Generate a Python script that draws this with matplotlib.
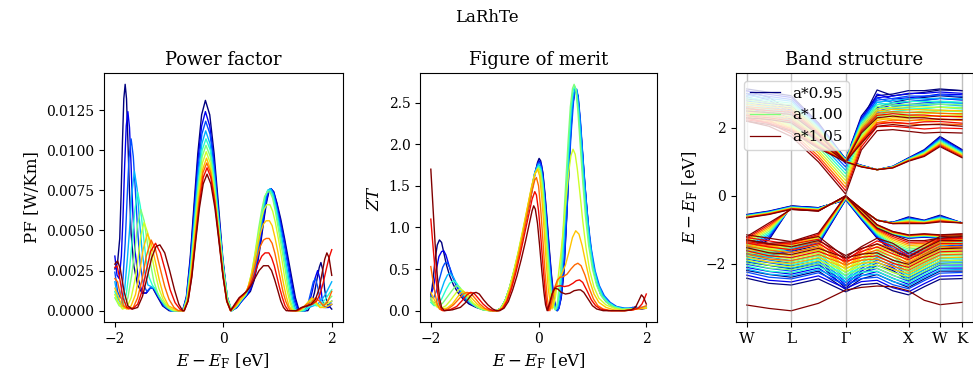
import numpy as np
import matplotlib
matplotlib.use("Agg")
import matplotlib.pyplot as plt

plt.rcParams['font.family'] = ['DejaVu Serif']
plt.rcParams['mathtext.fontset'] = 'dejavuserif'

# lattice scale factors, one curve each (a*0.95 ... a*1.05)
scales = [0.95, 0.96, 0.97, 0.98, 0.99, 1.00, 1.01, 1.02, 1.03, 1.04, 1.05]

# ---------------- power factor, (E - E_F, PF) ----------------
pf_095 = [(-2.00,0.0026),(-1.95,0.0030),(-1.91,0.0045),(-1.885,0.0072),(-1.86,0.0105),(-1.835,0.0132),(-1.81,0.0141),(-1.785,0.0132),(-1.76,0.0106),(-1.73,0.0074),(-1.70,0.0048),(-1.65,0.0028),(-1.58,0.0016),(-1.50,0.0011),(-1.42,0.0011),(-1.35,0.0014),(-1.30,0.0014),(-1.22,0.0009),(-1.12,0.0003),(-1.00,0.0),
          (-0.75,0.0),(-0.68,0.0009),(-0.61,0.0033),(-0.54,0.0066),(-0.47,0.0098),(-0.40,0.0122),(-0.33,0.0131),(-0.25,0.0122),(-0.17,0.0098),(-0.09,0.0066),(-0.01,0.0033),(0.07,0.0009),(0.15,0.0),
          (0.25,0.0002),(0.34,0.0006),(0.42,0.0009),(0.50,0.0012),(0.57,0.0019),(0.63,0.0029),(0.69,0.0042),(0.75,0.0057),(0.80,0.0068),(0.84,0.0074),(0.88,0.0076),(0.93,0.0074),(0.99,0.0067),(1.06,0.0057),(1.13,0.0045),(1.20,0.0032),(1.27,0.0019),(1.33,0.0008),(1.39,0.0001),(1.45,0.0),
          (1.56,0.0),(1.62,0.0004),(1.68,0.0011),(1.73,0.0020),(1.77,0.0027),(1.80,0.0030),(1.83,0.0026),(1.87,0.0013),(1.92,0.0004),(2.00,0.0001)]
pf_096 = [(-2.00,0.0034),(-1.96,0.0022),(-1.92,0.0020),(-1.88,0.0034),(-1.85,0.0058),(-1.82,0.0090),(-1.79,0.0115),(-1.76,0.0124),(-1.73,0.0114),(-1.70,0.0090),(-1.67,0.0062),(-1.63,0.0038),(-1.57,0.0020),(-1.49,0.0011),(-1.42,0.0011),(-1.35,0.0014),(-1.29,0.0014),(-1.21,0.0009),(-1.10,0.0003),(-0.98,0.0),
          (-0.75,0.0),(-0.68,0.0008),(-0.61,0.0031),(-0.54,0.0062),(-0.47,0.0093),(-0.40,0.0115),(-0.33,0.0124),(-0.25,0.0115),(-0.17,0.0093),(-0.09,0.0062),(-0.01,0.0031),(0.07,0.0008),(0.15,0.0),
          (0.25,0.0002),(0.34,0.0006),(0.42,0.0009),(0.50,0.0013),(0.57,0.0020),(0.63,0.0031),(0.69,0.0044),(0.75,0.0059),(0.80,0.0069),(0.84,0.0075),(0.88,0.0076),(0.93,0.0074),(0.99,0.0066),(1.06,0.0055),(1.13,0.0043),(1.19,0.0031),(1.26,0.0018),(1.32,0.0007),(1.38,0.0001),(1.43,0.0),
          (1.52,0.0),(1.58,0.0004),(1.64,0.0012),(1.69,0.0020),(1.74,0.0025),(1.78,0.0020),(1.82,0.0008),(1.87,0.0002),(1.94,0.0002),(2.00,0.0004)]
pf_097 = [(-2.00,0.0024),(-1.95,0.0012),(-1.90,0.0008),(-1.85,0.0020),(-1.81,0.0042),(-1.77,0.0073),(-1.74,0.0095),(-1.70,0.0107),(-1.66,0.0096),(-1.62,0.0074),(-1.58,0.0050),(-1.53,0.0028),(-1.47,0.0016),(-1.41,0.0012),(-1.35,0.0014),(-1.28,0.0014),(-1.20,0.0009),(-1.09,0.0003),(-0.97,0.0),
          (-0.745,0.0),(-0.675,0.0008),(-0.605,0.0030),(-0.535,0.0059),(-0.465,0.0089),(-0.395,0.0110),(-0.325,0.0118),(-0.245,0.0110),(-0.165,0.0089),(-0.085,0.0059),(-0.005,0.0030),(0.075,0.0008),(0.155,0.0),
          (0.25,0.0002),(0.34,0.0006),(0.42,0.0010),(0.49,0.0014),(0.56,0.0021),(0.62,0.0032),(0.68,0.0046),(0.74,0.0060),(0.79,0.0070),(0.83,0.0075),(0.875,0.0076),(0.92,0.0073),(0.98,0.0065),(1.05,0.0054),(1.12,0.0042),(1.18,0.0030),(1.24,0.0018),(1.30,0.0007),(1.36,0.0001),(1.41,0.0),
          (1.50,0.0),(1.56,0.0004),(1.61,0.0011),(1.66,0.0018),(1.70,0.0020),(1.74,0.0015),(1.79,0.0006),(1.85,0.0002),(1.93,0.0003),(2.00,0.0006)]
pf_098 = [(-2.00,0.0018),(-1.95,0.0008),(-1.88,0.0004),(-1.82,0.0013),(-1.77,0.0032),(-1.73,0.0050),(-1.69,0.0072),(-1.64,0.0087),(-1.59,0.0076),(-1.55,0.0058),(-1.50,0.0038),(-1.45,0.0024),(-1.39,0.0016),(-1.33,0.0015),(-1.27,0.0014),(-1.19,0.0009),(-1.08,0.0003),(-0.96,0.0),
          (-0.745,0.0),(-0.675,0.0008),(-0.605,0.0028),(-0.535,0.0056),(-0.465,0.0084),(-0.395,0.0104),(-0.325,0.0112),(-0.245,0.0104),(-0.165,0.0084),(-0.085,0.0056),(-0.005,0.0028),(0.075,0.0008),(0.155,0.0),
          (0.25,0.0003),(0.34,0.0007),(0.42,0.0010),(0.49,0.0015),(0.55,0.0022),(0.61,0.0033),(0.67,0.0047),(0.73,0.0061),(0.78,0.0071),(0.82,0.0075),(0.87,0.0076),(0.92,0.0073),(0.98,0.0064),(1.04,0.0053),(1.10,0.0041),(1.16,0.0029),(1.22,0.0017),(1.28,0.0007),(1.33,0.0001),(1.38,0.0),
          (1.50,0.0),(1.58,0.0002),(1.66,0.0003),(1.74,0.0004),(1.82,0.0007),(1.88,0.0010),(1.94,0.0014),(2.00,0.0018)]
pf_099 = [(-2.00,0.0012),(-1.94,0.0005),(-1.86,0.0003),(-1.79,0.0010),(-1.73,0.0026),(-1.68,0.0044),(-1.63,0.0063),(-1.58,0.0074),(-1.53,0.0065),(-1.48,0.0049),(-1.43,0.0033),(-1.37,0.0021),(-1.31,0.0016),(-1.25,0.0013),(-1.17,0.0008),(-1.06,0.0003),(-0.94,0.0),
          (-0.74,0.0),(-0.67,0.0007),(-0.60,0.0027),(-0.53,0.0054),(-0.46,0.0080),(-0.39,0.0100),(-0.32,0.0107),(-0.24,0.0100),(-0.16,0.0080),(-0.08,0.0054),(0.00,0.0027),(0.08,0.0007),(0.16,0.0),
          (0.25,0.0003),(0.34,0.0007),(0.42,0.0010),(0.48,0.0015),(0.54,0.0023),(0.60,0.0035),(0.66,0.0049),(0.72,0.0062),(0.77,0.0071),(0.82,0.0075),(0.865,0.0075),(0.91,0.0072),(0.97,0.0063),(1.03,0.0052),(1.09,0.0040),(1.15,0.0028),(1.21,0.0016),(1.26,0.0007),(1.31,0.0001),(1.36,0.0),
          (1.48,0.0),(1.56,0.0002),(1.64,0.0004),(1.72,0.0003),(1.80,0.0004),(1.88,0.0007),(1.94,0.0010),(2.00,0.0013)]
pf_100 = [(-2.00,0.0008),(-1.92,0.0003),(-1.83,0.0002),(-1.76,0.0008),(-1.69,0.0022),(-1.63,0.0038),(-1.58,0.0054),(-1.52,0.0063),(-1.46,0.0056),(-1.40,0.0042),(-1.34,0.0029),(-1.28,0.0018),(-1.21,0.0011),(-1.13,0.0006),(-1.03,0.0002),(-0.92,0.0),
          (-0.74,0.0),(-0.67,0.0007),(-0.60,0.0026),(-0.53,0.0052),(-0.46,0.0077),(-0.39,0.0096),(-0.32,0.0103),(-0.24,0.0096),(-0.16,0.0077),(-0.08,0.0052),(0.00,0.0026),(0.08,0.0007),(0.16,0.0),
          (0.25,0.0003),(0.34,0.0007),(0.41,0.0010),(0.47,0.0016),(0.53,0.0025),(0.59,0.0037),(0.65,0.0051),(0.71,0.0063),(0.76,0.0071),(0.81,0.0074),(0.86,0.0074),(0.91,0.0070),(0.96,0.0062),(1.02,0.0050),(1.08,0.0038),(1.14,0.0026),(1.19,0.0015),(1.24,0.0006),(1.29,0.0001),(1.33,0.0),
          (1.45,0.0),(1.53,0.0003),(1.60,0.0006),(1.67,0.0005),(1.75,0.0003),(1.84,0.0004),(1.92,0.0006),(2.00,0.0009)]
pf_101 = [(-2.00,0.0010),(-1.94,0.0005),(-1.86,0.0001),(-1.78,0.0002),(-1.70,0.0008),(-1.63,0.0019),(-1.57,0.0033),(-1.52,0.0047),(-1.46,0.0055),(-1.39,0.0048),(-1.33,0.0036),(-1.26,0.0024),(-1.19,0.0014),(-1.11,0.0007),(-1.01,0.0002),(-0.90,0.0),
          (-0.735,0.0),(-0.665,0.0007),(-0.595,0.0025),(-0.525,0.0050),(-0.455,0.0074),(-0.385,0.0092),(-0.315,0.0099),(-0.24,0.0092),(-0.165,0.0074),(-0.09,0.0050),(-0.015,0.0025),(0.06,0.0007),(0.135,0.0),
          (0.24,0.0003),(0.33,0.0007),(0.40,0.0010),(0.46,0.0015),(0.52,0.0023),(0.58,0.0034),(0.64,0.0046),(0.70,0.0057),(0.75,0.0063),(0.80,0.0066),(0.86,0.0066),(0.91,0.0062),(0.96,0.0055),(1.02,0.0044),(1.08,0.0032),(1.13,0.0021),(1.18,0.0012),(1.23,0.0005),(1.27,0.0001),(1.30,0.0),
          (1.42,0.0),(1.50,0.0003),(1.58,0.0006),(1.65,0.0007),(1.72,0.0004),(1.80,0.0002),(1.90,0.0004),(2.00,0.0006)]
pf_102 = [(-2.00,0.0014),(-1.94,0.0009),(-1.87,0.0003),(-1.78,0.0001),(-1.70,0.0003),(-1.62,0.0010),(-1.55,0.0022),(-1.48,0.0038),(-1.40,0.0048),(-1.33,0.0042),(-1.25,0.0030),(-1.18,0.0019),(-1.10,0.0009),(-1.01,0.0003),(-0.90,0.0001),(-0.85,0.0),
          (-0.73,0.0),(-0.66,0.0006),(-0.59,0.0024),(-0.52,0.0048),(-0.45,0.0071),(-0.38,0.0088),(-0.31,0.0095),(-0.235,0.0088),(-0.16,0.0071),(-0.085,0.0048),(-0.01,0.0024),(0.065,0.0006),(0.14,0.0),
          (0.23,0.0003),(0.32,0.0007),(0.39,0.0010),(0.45,0.0014),(0.51,0.0021),(0.57,0.0030),(0.63,0.0040),(0.69,0.0049),(0.74,0.0054),(0.79,0.0056),(0.85,0.0056),(0.90,0.0053),(0.95,0.0046),(1.01,0.0036),(1.06,0.0026),(1.11,0.0017),(1.16,0.0009),(1.21,0.0003),(1.27,0.0),
          (1.40,0.0),(1.48,0.0002),(1.56,0.0005),(1.63,0.0008),(1.70,0.0006),(1.78,0.0002),(1.88,0.0002),(2.00,0.0004)]
pf_103 = [(-2.00,0.0020),(-1.95,0.0018),(-1.90,0.0010),(-1.84,0.0003),(-1.75,0.0001),(-1.66,0.0002),(-1.58,0.0008),(-1.50,0.0019),(-1.42,0.0034),(-1.33,0.0044),(-1.25,0.0038),(-1.17,0.0027),(-1.08,0.0015),(-1.00,0.0007),(-0.91,0.0002),(-0.83,0.0),
          (-0.725,0.0),(-0.655,0.0006),(-0.585,0.0023),(-0.515,0.0046),(-0.445,0.0069),(-0.375,0.0086),(-0.305,0.0092),(-0.235,0.0086),(-0.16,0.0069),(-0.085,0.0046),(-0.01,0.0023),(0.06,0.0006),(0.13,0.0),
          (0.22,0.0003),(0.31,0.0008),(0.38,0.0010),(0.44,0.0013),(0.50,0.0018),(0.56,0.0025),(0.62,0.0033),(0.68,0.0040),(0.74,0.0044),(0.79,0.0045),(0.845,0.0045),(0.90,0.0042),(0.95,0.0036),(1.00,0.0028),(1.05,0.0020),(1.10,0.0012),(1.15,0.0006),(1.20,0.0002),(1.24,0.0),
          (1.38,0.0),(1.46,0.0002),(1.54,0.0004),(1.62,0.0005),(1.70,0.0008),(1.77,0.0006),(1.85,0.0003),(1.93,0.0006),(2.00,0.0012)]
pf_104 = [(-2.00,0.0027),(-1.96,0.0028),(-1.91,0.0020),(-1.85,0.0008),(-1.78,0.0002),(-1.68,0.0001),(-1.58,0.0004),(-1.50,0.0012),(-1.42,0.0025),(-1.34,0.0037),(-1.25,0.0042),(-1.16,0.0036),(-1.07,0.0025),(-0.98,0.0013),(-0.89,0.0005),(-0.80,0.0001),(-0.75,0.0),
          (-0.72,0.0),(-0.65,0.0006),(-0.58,0.0022),(-0.51,0.0045),(-0.44,0.0067),(-0.37,0.0083),(-0.30,0.0089),(-0.23,0.0083),(-0.155,0.0067),(-0.08,0.0045),(-0.005,0.0022),(0.065,0.0006),(0.135,0.0),
          (0.22,0.0004),(0.30,0.0008),(0.37,0.0010),(0.43,0.0012),(0.50,0.0016),(0.57,0.0022),(0.64,0.0029),(0.71,0.0034),(0.77,0.0036),(0.84,0.0036),(0.89,0.0033),(0.94,0.0028),(0.99,0.0021),(1.04,0.0014),(1.09,0.0008),(1.14,0.0003),(1.20,0.0),
          (1.36,0.0),(1.46,0.0002),(1.56,0.0003),(1.64,0.0004),(1.72,0.0006),(1.78,0.0010),(1.84,0.0017),(1.90,0.0026),(1.95,0.0033),(2.00,0.0038)]
pf_105 = [(-2.00,0.0029),(-1.95,0.0031),(-1.90,0.0026),(-1.83,0.0012),(-1.76,0.0003),(-1.68,0.0001),(-1.58,0.0002),(-1.49,0.0009),(-1.41,0.0020),(-1.32,0.0033),(-1.24,0.0040),(-1.17,0.0041),(-1.08,0.0036),(-0.99,0.0025),(-0.90,0.0013),(-0.82,0.0004),(-0.75,0.0),
          (-0.72,0.0),(-0.65,0.0006),(-0.58,0.0021),(-0.51,0.0043),(-0.44,0.0064),(-0.37,0.0079),(-0.30,0.0085),(-0.23,0.0079),(-0.155,0.0064),(-0.08,0.0043),(-0.005,0.0021),(0.065,0.0006),(0.135,0.0),
          (0.21,0.0004),(0.29,0.0008),(0.36,0.0010),(0.43,0.0012),(0.50,0.0015),(0.58,0.0020),(0.66,0.0025),(0.74,0.0028),(0.83,0.0028),(0.89,0.0025),(0.95,0.0019),(1.01,0.0012),(1.06,0.0006),(1.11,0.0002),(1.16,0.0),
          (1.34,0.0),(1.44,0.0002),(1.54,0.0003),(1.62,0.0004),(1.70,0.0007),(1.77,0.0014),(1.82,0.0023),(1.87,0.0032),(1.91,0.0036),(1.95,0.0033),(2.00,0.0022)]

# ---------------- figure of merit ZT ----------------
zt_095 = [(-2.0,0.16),(-1.96,0.36),(-1.92,0.62),(-1.88,0.79),(-1.84,0.85),(-1.80,0.82),(-1.76,0.70),(-1.71,0.55),(-1.65,0.42),(-1.58,0.31),(-1.50,0.22),(-1.40,0.14),(-1.29,0.08),(-1.16,0.04),(-1.02,0.01),(-0.88,0.0),
          (-0.78,0.0),(-0.70,0.03),(-0.62,0.12),(-0.54,0.27),(-0.46,0.46),(-0.38,0.67),(-0.30,0.90),(-0.22,1.13),(-0.14,1.38),(-0.07,1.63),(-0.02,1.78),(0.01,1.83),(0.04,1.80),(0.08,1.66),(0.12,1.40),(0.16,1.08),(0.20,0.74),(0.24,0.43),(0.28,0.18),(0.31,0.05),(0.34,0.0),
          (0.37,0.02),(0.42,0.15),(0.47,0.45),(0.51,0.95),(0.55,1.50),(0.59,2.05),(0.63,2.45),(0.67,2.62),(0.70,2.64),(0.73,2.58),(0.77,2.30),(0.81,1.95),(0.85,1.60),(0.89,1.28),(0.94,0.92),(1.00,0.60),(1.07,0.36),(1.15,0.21),(1.25,0.12),(1.35,0.07),(1.50,0.03),(1.65,0.02),
          (1.75,0.03),(1.80,0.05),(1.85,0.03),(1.92,0.02),(2.0,0.03)]
zt_096 = [(-2.0,0.20),(-1.95,0.28),(-1.90,0.48),(-1.85,0.65),(-1.80,0.71),(-1.76,0.72),(-1.72,0.67),(-1.67,0.56),(-1.61,0.43),(-1.54,0.32),(-1.46,0.22),(-1.36,0.14),(-1.25,0.08),(-1.12,0.04),(-0.98,0.01),(-0.85,0.0),
          (-0.78,0.0),(-0.70,0.03),(-0.62,0.12),(-0.54,0.27),(-0.46,0.46),(-0.38,0.67),(-0.30,0.90),(-0.22,1.14),(-0.14,1.40),(-0.07,1.65),(-0.01,1.78),(0.02,1.80),(0.05,1.76),(0.08,1.64),(0.12,1.37),(0.16,1.04),(0.20,0.70),(0.24,0.40),(0.28,0.16),(0.32,0.04),(0.35,0.0),
          (0.38,0.03),(0.42,0.16),(0.47,0.48),(0.51,0.98),(0.55,1.54),(0.59,2.08),(0.63,2.47),(0.67,2.63),(0.70,2.65),(0.73,2.58),(0.77,2.30),(0.81,1.94),(0.85,1.58),(0.89,1.26),(0.94,0.90),(1.00,0.59),(1.07,0.35),(1.15,0.20),(1.25,0.11),(1.35,0.06),(1.50,0.03),(1.65,0.02),
          (1.75,0.04),(1.82,0.03),(1.90,0.02),(2.0,0.04)]
zt_097 = [(-2.0,0.17),(-1.95,0.15),(-1.90,0.23),(-1.84,0.38),(-1.78,0.52),(-1.74,0.57),(-1.70,0.58),(-1.65,0.52),(-1.59,0.41),(-1.52,0.30),(-1.43,0.20),(-1.33,0.12),(-1.22,0.07),(-1.10,0.03),(-0.96,0.01),(-0.85,0.0),
          (-0.78,0.0),(-0.70,0.03),(-0.62,0.12),(-0.54,0.27),(-0.46,0.46),(-0.38,0.67),(-0.30,0.91),(-0.22,1.15),(-0.14,1.42),(-0.07,1.66),(-0.01,1.77),(0.02,1.78),(0.05,1.73),(0.08,1.60),(0.12,1.32),(0.16,0.98),(0.20,0.64),(0.24,0.34),(0.28,0.13),(0.32,0.03),(0.35,0.0),
          (0.38,0.04),(0.42,0.20),(0.47,0.58),(0.52,1.12),(0.56,1.66),(0.61,2.18),(0.65,2.52),(0.68,2.65),(0.71,2.66),(0.74,2.55),(0.78,2.26),(0.82,1.88),(0.87,1.44),(0.92,1.06),(0.98,0.74),(1.05,0.48),(1.13,0.30),(1.22,0.18),(1.33,0.10),(1.45,0.05),(1.60,0.03),
          (1.75,0.03),(1.90,0.04),(2.0,0.04)]
zt_098 = [(-2.0,0.14),(-1.95,0.09),(-1.89,0.11),(-1.82,0.22),(-1.75,0.35),(-1.69,0.43),(-1.64,0.45),(-1.58,0.40),(-1.51,0.31),(-1.42,0.21),(-1.32,0.13),(-1.21,0.07),(-1.09,0.03),(-0.96,0.01),(-0.85,0.0),
          (-0.78,0.0),(-0.70,0.03),(-0.62,0.12),(-0.54,0.27),(-0.46,0.46),(-0.38,0.68),(-0.30,0.92),(-0.22,1.17),(-0.14,1.44),(-0.07,1.66),(0.0,1.76),(0.04,1.72),(0.08,1.55),(0.12,1.24),(0.16,0.88),(0.20,0.53),(0.24,0.24),(0.28,0.08),(0.32,0.01),
          (0.36,0.05),(0.41,0.28),(0.46,0.72),(0.51,1.28),(0.56,1.86),(0.60,2.30),(0.64,2.58),(0.68,2.68),(0.71,2.64),(0.75,2.42),(0.79,2.08),(0.84,1.62),(0.89,1.22),(0.95,0.84),(1.02,0.54),(1.10,0.33),(1.19,0.19),(1.30,0.10),(1.42,0.05),(1.55,0.03),
          (1.75,0.03),(1.90,0.03),(2.0,0.04)]
zt_099 = [(-2.0,0.10),(-1.94,0.06),(-1.87,0.07),(-1.80,0.14),(-1.72,0.25),(-1.65,0.33),(-1.58,0.36),(-1.52,0.33),(-1.44,0.25),(-1.35,0.16),(-1.25,0.09),(-1.14,0.04),(-1.02,0.01),(-0.90,0.0),
          (-0.78,0.0),(-0.70,0.03),(-0.62,0.12),(-0.54,0.27),(-0.46,0.46),(-0.38,0.68),(-0.30,0.92),(-0.22,1.17),(-0.14,1.43),(-0.07,1.65),(0.0,1.74),(0.04,1.70),(0.08,1.52),(0.12,1.20),(0.16,0.84),(0.20,0.50),(0.24,0.22),(0.28,0.06),(0.32,0.01),
          (0.36,0.08),(0.41,0.35),(0.46,0.82),(0.51,1.40),(0.56,1.98),(0.60,2.40),(0.64,2.64),(0.67,2.70),(0.70,2.65),(0.74,2.40),(0.78,2.04),(0.83,1.58),(0.88,1.18),(0.94,0.82),(1.01,0.52),(1.09,0.32),(1.18,0.18),(1.29,0.10),(1.41,0.05),(1.55,0.02),
          (1.75,0.02),(1.90,0.03),(2.0,0.04)]
zt_100 = [(-2.0,0.12),(-1.94,0.07),(-1.86,0.05),(-1.78,0.09),(-1.70,0.16),(-1.62,0.23),(-1.56,0.28),(-1.52,0.30),(-1.46,0.28),(-1.37,0.20),(-1.27,0.11),(-1.16,0.05),(-1.04,0.01),(-0.92,0.0),
          (-0.78,0.0),(-0.70,0.03),(-0.62,0.12),(-0.54,0.27),(-0.46,0.47),(-0.38,0.69),(-0.30,0.93),(-0.22,1.18),(-0.14,1.44),(-0.07,1.64),(0.0,1.72),(0.04,1.67),(0.08,1.46),(0.12,1.13),(0.16,0.77),(0.20,0.42),(0.24,0.16),(0.28,0.04),(0.31,0.01),
          (0.35,0.10),(0.40,0.40),(0.45,0.90),(0.50,1.48),(0.55,2.05),(0.59,2.45),(0.63,2.67),(0.66,2.72),(0.69,2.66),(0.73,2.40),(0.77,2.02),(0.82,1.55),(0.87,1.14),(0.93,0.78),(1.00,0.50),(1.08,0.30),(1.17,0.17),(1.28,0.09),(1.40,0.04),(1.55,0.02),
          (1.75,0.02),(1.90,0.03),(2.0,0.04)]
zt_101 = [(-2.0,0.16),(-1.95,0.10),(-1.88,0.04),(-1.80,0.03),(-1.72,0.06),(-1.64,0.12),(-1.56,0.19),(-1.50,0.24),(-1.46,0.26),(-1.40,0.24),(-1.31,0.17),(-1.21,0.09),(-1.10,0.04),(-0.98,0.01),(-0.88,0.0),
          (-0.78,0.0),(-0.70,0.03),(-0.62,0.12),(-0.54,0.28),(-0.46,0.48),(-0.38,0.70),(-0.30,0.95),(-0.22,1.20),(-0.14,1.45),(-0.07,1.64),(-0.01,1.71),(0.03,1.65),(0.07,1.42),(0.11,1.08),(0.15,0.70),(0.19,0.36),(0.23,0.13),(0.27,0.04),
          (0.31,0.15),(0.36,0.38),(0.41,0.66),(0.46,0.98),(0.51,1.34),(0.56,1.66),(0.60,1.86),(0.64,1.94),(0.68,1.88),(0.72,1.70),(0.77,1.40),(0.82,1.08),(0.88,0.76),(0.95,0.48),(1.03,0.28),(1.12,0.15),(1.25,0.07),(1.40,0.03),(1.55,0.01),
          (1.75,0.02),(1.90,0.03),(2.0,0.03)]
zt_102 = [(-2.0,0.22),(-1.95,0.15),(-1.88,0.06),(-1.80,0.02),(-1.70,0.03),(-1.60,0.08),(-1.52,0.15),(-1.45,0.21),(-1.40,0.23),(-1.33,0.21),(-1.24,0.15),(-1.14,0.08),(-1.04,0.03),(-0.92,0.0),
          (-0.76,0.0),(-0.68,0.03),(-0.60,0.12),(-0.52,0.28),(-0.44,0.49),(-0.36,0.73),(-0.28,0.99),(-0.20,1.26),(-0.13,1.49),(-0.07,1.64),(-0.02,1.70),(0.02,1.62),(0.06,1.36),(0.10,1.00),(0.14,0.60),(0.18,0.26),(0.22,0.08),(0.25,0.02),
          (0.28,0.12),(0.32,0.28),(0.37,0.38),(0.43,0.44),(0.50,0.55),(0.57,0.72),(0.63,0.88),(0.69,0.96),(0.75,0.92),(0.81,0.78),(0.88,0.56),(0.95,0.36),(1.03,0.20),(1.12,0.10),(1.25,0.04),(1.40,0.01),(1.55,0.0),
          (1.70,0.01),(1.85,0.02),(2.0,0.03)]
zt_103 = [(-2.0,0.53),(-1.96,0.36),(-1.92,0.20),(-1.88,0.08),(-1.84,0.02),(-1.78,0.0),(-1.68,0.02),(-1.58,0.07),(-1.48,0.14),(-1.40,0.20),(-1.33,0.22),(-1.26,0.21),(-1.18,0.15),(-1.09,0.08),(-1.00,0.03),(-0.90,0.0),
          (-0.75,0.0),(-0.67,0.03),(-0.59,0.12),(-0.51,0.28),(-0.43,0.48),(-0.35,0.71),(-0.27,0.96),(-0.19,1.22),(-0.12,1.44),(-0.07,1.57),(-0.04,1.60),(0.00,1.50),(0.04,1.22),(0.08,0.85),(0.12,0.46),(0.16,0.16),(0.19,0.03),(0.21,0.0),
          (0.25,0.12),(0.30,0.28),(0.35,0.37),(0.40,0.40),(0.46,0.41),(0.53,0.44),(0.60,0.50),(0.67,0.55),(0.73,0.57),(0.79,0.54),(0.86,0.43),(0.94,0.27),(1.02,0.14),(1.10,0.06),(1.20,0.02),(1.35,0.0),
          (1.60,0.0),(1.75,0.01),(1.88,0.03),(2.0,0.06)]
zt_104 = [(-2.0,1.10),(-1.96,0.78),(-1.92,0.48),(-1.88,0.24),(-1.84,0.08),(-1.80,0.01),(-1.76,0.0),(-1.65,0.01),(-1.52,0.05),(-1.42,0.12),(-1.33,0.19),(-1.26,0.22),(-1.20,0.21),(-1.12,0.15),(-1.03,0.08),(-0.94,0.03),(-0.85,0.0),
          (-0.74,0.0),(-0.66,0.03),(-0.58,0.12),(-0.50,0.27),(-0.42,0.46),(-0.34,0.68),(-0.26,0.92),(-0.18,1.16),(-0.12,1.34),(-0.07,1.43),(-0.04,1.39),(0.00,1.20),(0.04,0.90),(0.08,0.56),(0.12,0.25),(0.15,0.08),(0.18,0.0),
          (0.22,0.10),(0.27,0.24),(0.33,0.29),(0.40,0.30),(0.48,0.29),(0.56,0.30),(0.64,0.33),(0.70,0.36),(0.76,0.37),(0.82,0.34),(0.90,0.24),(0.98,0.13),(1.06,0.06),(1.15,0.02),(1.30,0.0),
          (1.60,0.0),(1.75,0.01),(1.85,0.03),(1.92,0.08),(1.97,0.15),(2.0,0.20)]
zt_105 = [(-2.0,1.70),(-1.96,1.25),(-1.92,0.80),(-1.88,0.42),(-1.84,0.16),(-1.80,0.04),(-1.75,0.0),(-1.60,0.01),(-1.45,0.04),(-1.35,0.10),(-1.27,0.17),(-1.21,0.21),(-1.16,0.22),(-1.10,0.20),(-1.02,0.13),(-0.94,0.07),(-0.85,0.02),(-0.78,0.0),
          (-0.72,0.0),(-0.64,0.03),(-0.56,0.11),(-0.48,0.25),(-0.40,0.42),(-0.32,0.62),(-0.24,0.84),(-0.17,1.05),(-0.12,1.20),(-0.09,1.26),(-0.06,1.22),(-0.02,1.05),(0.02,0.78),(0.06,0.48),(0.10,0.22),(0.13,0.07),(0.16,0.0),
          (0.20,0.08),(0.25,0.20),(0.30,0.27),(0.36,0.26),(0.42,0.22),(0.50,0.20),(0.58,0.21),(0.66,0.24),(0.74,0.25),(0.78,0.25),(0.84,0.22),(0.92,0.14),(1.00,0.06),(1.08,0.02),(1.20,0.0),
          (1.60,0.0),(1.72,0.01),(1.80,0.04),(1.86,0.12),(1.91,0.19),(1.95,0.16),(2.0,0.08)]

# ---------------- band structure ----------------
# path W-L-G-X-W-K, energies read at these k points (one row per lattice scale)
k_nodes = [0.0, 0.354, 0.707, 1.140, 1.573, 1.823, 2.073, 2.323, 2.573, 2.823, 3.073, 3.427]
k_ticks = [0.0, 0.707, 1.573, 2.573, 3.073, 3.427]
k_labels = ['W', 'L', 'Γ', 'X', 'W', 'K']

band_d3 = [[-2.43,-2.58,-2.63,-2.45,-2.83,-2.62,-2.58,-2.80,-2.92,-2.68,-2.46,-2.44],
           [-2.34,-2.49,-2.54,-2.36,-2.73,-2.53,-2.49,-2.71,-2.83,-2.59,-2.37,-2.35],
           [-2.25,-2.40,-2.45,-2.27,-2.63,-2.44,-2.40,-2.62,-2.74,-2.50,-2.28,-2.26],
           [-2.16,-2.31,-2.36,-2.18,-2.53,-2.35,-2.31,-2.53,-2.65,-2.41,-2.19,-2.17],
           [-2.07,-2.22,-2.27,-2.09,-2.43,-2.26,-2.22,-2.44,-2.56,-2.32,-2.10,-2.08],
           [-1.98,-2.13,-2.18,-2.00,-2.33,-2.17,-2.13,-2.35,-2.47,-2.23,-2.01,-1.99],
           [-1.89,-2.04,-2.09,-1.91,-2.23,-2.08,-2.04,-2.26,-2.38,-2.14,-1.92,-1.90],
           [-1.80,-1.95,-2.00,-1.82,-2.13,-1.99,-1.95,-2.17,-2.29,-2.05,-1.83,-1.81],
           [-1.71,-1.86,-1.91,-1.73,-2.03,-1.90,-1.86,-2.08,-2.20,-1.96,-1.74,-1.72],
           [-1.62,-1.77,-1.82,-1.64,-1.93,-1.81,-1.77,-1.99,-2.11,-1.87,-1.65,-1.63],
           [-1.53,-1.68,-1.73,-1.55,-1.83,-1.72,-1.68,-1.90,-2.02,-1.78,-1.56,-1.54]]
band_d2 = [[-2.20,-2.32,-2.40,-2.22,-2.76,-2.45,-2.32,-2.52,-2.70,-2.45,-2.22,-2.22],
           [-2.11,-2.23,-2.31,-2.13,-2.66,-2.36,-2.23,-2.43,-2.61,-2.36,-2.13,-2.13],
           [-2.02,-2.14,-2.22,-2.04,-2.56,-2.27,-2.14,-2.34,-2.52,-2.27,-2.04,-2.04],
           [-1.93,-2.05,-2.13,-1.95,-2.46,-2.18,-2.05,-2.25,-2.43,-2.18,-1.95,-1.95],
           [-1.84,-1.96,-2.04,-1.86,-2.36,-2.09,-1.96,-2.16,-2.34,-2.09,-1.86,-1.86],
           [-1.75,-1.87,-1.95,-1.77,-2.26,-2.00,-1.87,-2.07,-2.25,-2.00,-1.77,-1.77],
           [-1.66,-1.78,-1.86,-1.68,-2.16,-1.91,-1.78,-1.98,-2.16,-1.91,-1.68,-1.68],
           [-1.57,-1.69,-1.77,-1.59,-2.06,-1.82,-1.69,-1.89,-2.07,-1.82,-1.59,-1.59],
           [-1.48,-1.60,-1.68,-1.50,-1.96,-1.73,-1.60,-1.80,-1.98,-1.73,-1.50,-1.50],
           [-1.39,-1.51,-1.59,-1.41,-1.86,-1.64,-1.51,-1.71,-1.89,-1.64,-1.41,-1.41],
           [-1.30,-1.42,-1.50,-1.32,-1.76,-1.55,-1.42,-1.62,-1.80,-1.55,-1.32,-1.32]]
band_d1 = [[-1.95,-2.05,-2.15,-2.00,-2.72,-2.30,-2.05,-2.20,-2.50,-2.25,-2.00,-1.98],
           [-1.87,-1.97,-2.07,-1.92,-2.63,-2.22,-1.97,-2.12,-2.42,-2.17,-1.92,-1.90],
           [-1.79,-1.89,-1.99,-1.84,-2.54,-2.14,-1.89,-2.04,-2.34,-2.09,-1.84,-1.82],
           [-1.71,-1.81,-1.91,-1.76,-2.45,-2.06,-1.81,-1.96,-2.26,-2.01,-1.76,-1.74],
           [-1.63,-1.73,-1.83,-1.68,-2.36,-1.98,-1.73,-1.88,-2.18,-1.93,-1.68,-1.66],
           [-1.55,-1.65,-1.75,-1.60,-2.27,-1.90,-1.65,-1.80,-2.10,-1.85,-1.60,-1.58],
           [-1.47,-1.57,-1.67,-1.52,-2.18,-1.82,-1.57,-1.72,-2.02,-1.77,-1.52,-1.50],
           [-1.39,-1.49,-1.59,-1.44,-2.09,-1.74,-1.49,-1.64,-1.94,-1.69,-1.44,-1.42],
           [-1.31,-1.41,-1.51,-1.36,-2.00,-1.66,-1.41,-1.56,-1.86,-1.61,-1.36,-1.34],
           [-1.23,-1.33,-1.43,-1.28,-1.91,-1.58,-1.33,-1.48,-1.78,-1.53,-1.28,-1.26],
           [-1.15,-1.25,-1.35,-1.20,-1.82,-1.50,-1.25,-1.40,-1.70,-1.45,-1.20,-1.18]]
band_v3 = [[-1.75,-1.80,-1.65,-1.45,-0.12,-0.70,-1.25,-1.65,-1.82,-1.72,-1.55,-1.50],
           [-1.71,-1.76,-1.62,-1.42,-0.11,-0.68,-1.22,-1.60,-1.77,-1.68,-1.52,-1.47],
           [-1.66,-1.72,-1.59,-1.38,-0.10,-0.66,-1.19,-1.55,-1.72,-1.64,-1.49,-1.44],
           [-1.62,-1.68,-1.56,-1.35,-0.08,-0.64,-1.16,-1.50,-1.67,-1.60,-1.46,-1.41],
           [-1.57,-1.64,-1.53,-1.31,-0.07,-0.62,-1.13,-1.45,-1.62,-1.56,-1.43,-1.38],
           [-1.53,-1.60,-1.50,-1.28,-0.06,-0.60,-1.10,-1.40,-1.57,-1.52,-1.40,-1.35],
           [-1.48,-1.56,-1.47,-1.24,-0.05,-0.58,-1.07,-1.35,-1.52,-1.48,-1.37,-1.32],
           [-1.44,-1.52,-1.44,-1.21,-0.04,-0.56,-1.04,-1.30,-1.47,-1.44,-1.34,-1.29],
           [-1.39,-1.48,-1.41,-1.17,-0.02,-0.54,-1.01,-1.25,-1.42,-1.40,-1.31,-1.26],
           [-1.35,-1.44,-1.38,-1.14,-0.01,-0.52,-0.98,-1.20,-1.37,-1.36,-1.28,-1.23],
           [-1.30,-1.40,-1.35,-1.10,0.00,-0.50,-0.95,-1.15,-1.32,-1.32,-1.25,-1.20]]
band_v2 = [[-1.60,-1.30,-0.30,-0.35,-0.12,-0.50,-0.95,-1.15,-1.25,-1.22,-1.25,-1.22],
           [-1.56,-1.25,-0.31,-0.36,-0.11,-0.49,-0.94,-1.14,-1.24,-1.21,-1.24,-1.21],
           [-1.52,-1.20,-0.32,-0.37,-0.10,-0.48,-0.93,-1.13,-1.23,-1.20,-1.23,-1.20],
           [-1.48,-1.15,-0.33,-0.38,-0.08,-0.47,-0.92,-1.12,-1.22,-1.19,-1.22,-1.19],
           [-1.44,-1.10,-0.34,-0.39,-0.07,-0.46,-0.91,-1.11,-1.21,-1.18,-1.21,-1.18],
           [-1.40,-1.05,-0.35,-0.40,-0.06,-0.45,-0.90,-1.10,-1.20,-1.17,-1.20,-1.17],
           [-1.36,-1.00,-0.36,-0.41,-0.05,-0.44,-0.89,-1.09,-1.19,-1.16,-1.19,-1.16],
           [-1.32,-0.95,-0.37,-0.42,-0.04,-0.43,-0.88,-1.08,-1.18,-1.15,-1.18,-1.15],
           [-1.28,-0.90,-0.38,-0.43,-0.02,-0.42,-0.87,-1.07,-1.17,-1.14,-1.17,-1.14],
           [-1.24,-0.85,-0.39,-0.44,-0.01,-0.41,-0.86,-1.06,-1.16,-1.13,-1.16,-1.13],
           [-1.20,-0.80,-0.40,-0.45,0.00,-0.40,-0.85,-1.05,-1.15,-1.12,-1.15,-1.12]]
band_v1 = [[-0.55,-0.45,-0.30,-0.35,-0.12,-0.40,-0.72,-0.78,-0.62,-0.72,-0.57,-0.80],
           [-0.56,-0.46,-0.31,-0.36,-0.11,-0.40,-0.72,-0.78,-0.64,-0.73,-0.59,-0.80],
           [-0.57,-0.47,-0.32,-0.37,-0.10,-0.40,-0.72,-0.79,-0.66,-0.74,-0.61,-0.80],
           [-0.58,-0.48,-0.33,-0.38,-0.08,-0.39,-0.72,-0.79,-0.68,-0.75,-0.63,-0.80],
           [-0.59,-0.49,-0.34,-0.39,-0.07,-0.39,-0.72,-0.80,-0.70,-0.76,-0.65,-0.80],
           [-0.60,-0.50,-0.35,-0.40,-0.06,-0.39,-0.72,-0.80,-0.72,-0.77,-0.67,-0.80],
           [-0.61,-0.51,-0.36,-0.41,-0.05,-0.39,-0.72,-0.80,-0.74,-0.78,-0.69,-0.80],
           [-0.62,-0.52,-0.37,-0.42,-0.04,-0.39,-0.72,-0.81,-0.76,-0.79,-0.71,-0.80],
           [-0.63,-0.53,-0.38,-0.43,-0.02,-0.38,-0.72,-0.81,-0.78,-0.80,-0.73,-0.80],
           [-0.64,-0.54,-0.39,-0.44,-0.01,-0.38,-0.72,-0.82,-0.80,-0.81,-0.75,-0.80],
           [-0.65,-0.55,-0.40,-0.45,0.00,-0.38,-0.72,-0.82,-0.82,-0.82,-0.77,-0.80]]
band_c1 = [[3.10,2.90,2.50,1.85,1.05,2.20,3.12,2.95,3.00,3.05,3.12,3.10],
           [3.01,2.82,2.43,1.77,0.95,2.12,3.00,2.85,2.89,2.93,3.00,2.98],
           [2.92,2.73,2.35,1.68,0.85,2.03,2.88,2.75,2.78,2.81,2.87,2.85],
           [2.83,2.65,2.28,1.60,0.75,1.95,2.76,2.65,2.67,2.69,2.75,2.73],
           [2.74,2.56,2.20,1.51,0.65,1.86,2.64,2.55,2.56,2.57,2.62,2.60],
           [2.65,2.48,2.13,1.43,0.55,1.78,2.52,2.45,2.45,2.45,2.50,2.48],
           [2.56,2.39,2.05,1.34,0.45,1.69,2.40,2.35,2.34,2.33,2.37,2.35],
           [2.47,2.31,1.98,1.26,0.35,1.61,2.28,2.25,2.23,2.21,2.25,2.23],
           [2.38,2.22,1.90,1.17,0.25,1.52,2.16,2.15,2.12,2.09,2.12,2.10],
           [2.29,2.14,1.83,1.09,0.15,1.44,2.04,2.05,2.01,1.97,2.00,1.98],
           [2.20,2.05,1.75,1.00,0.05,1.35,1.92,1.95,1.90,1.85,1.87,1.85]]
band_c2 = [[2.60,2.50,2.30,1.70,1.05,0.90,0.77,0.87,1.12,1.36,1.75,1.36],
           [2.56,2.46,2.26,1.67,1.04,0.90,0.77,0.87,1.11,1.34,1.72,1.34],
           [2.52,2.42,2.22,1.64,1.04,0.89,0.77,0.86,1.10,1.32,1.69,1.31],
           [2.48,2.38,2.18,1.61,1.03,0.89,0.77,0.86,1.09,1.30,1.66,1.29],
           [2.44,2.34,2.14,1.58,1.03,0.88,0.77,0.85,1.08,1.28,1.63,1.26],
           [2.40,2.30,2.10,1.55,1.02,0.88,0.77,0.85,1.07,1.26,1.60,1.24],
           [2.36,2.26,2.06,1.52,1.02,0.87,0.77,0.84,1.06,1.24,1.57,1.22],
           [2.32,2.22,2.02,1.49,1.01,0.87,0.77,0.84,1.05,1.22,1.54,1.19],
           [2.28,2.18,1.98,1.46,1.01,0.86,0.77,0.83,1.04,1.20,1.51,1.17],
           [2.24,2.14,1.94,1.43,1.00,0.86,0.77,0.83,1.03,1.18,1.48,1.14],
           [2.20,2.10,1.90,1.40,1.00,0.85,0.77,0.82,1.02,1.16,1.45,1.12]]
band_u1 = [[2.85,2.75,2.65,1.95,1.08,2.00,2.60,2.75,2.85,2.90,2.95,2.90],
           [2.80,2.70,2.60,1.92,1.07,1.96,2.55,2.69,2.77,2.82,2.87,2.82],
           [2.74,2.65,2.55,1.88,1.06,1.91,2.49,2.62,2.69,2.74,2.78,2.73],
           [2.69,2.60,2.50,1.85,1.06,1.87,2.44,2.56,2.61,2.66,2.70,2.65],
           [2.63,2.55,2.45,1.81,1.05,1.82,2.38,2.49,2.53,2.58,2.61,2.56],
           [2.58,2.50,2.40,1.78,1.04,1.78,2.33,2.43,2.45,2.50,2.53,2.48],
           [2.52,2.45,2.35,1.74,1.03,1.73,2.27,2.36,2.37,2.42,2.44,2.39],
           [2.47,2.40,2.30,1.71,1.02,1.69,2.22,2.30,2.29,2.34,2.36,2.31],
           [2.41,2.35,2.25,1.67,1.02,1.64,2.16,2.23,2.21,2.26,2.27,2.22],
           [2.36,2.30,2.20,1.64,1.01,1.60,2.11,2.17,2.13,2.18,2.19,2.14],
           [2.30,2.25,2.15,1.60,1.00,1.55,2.05,2.10,2.05,2.10,2.10,2.05]]
band_u2 = [[3.15,3.05,2.95,2.15,1.08,2.35,2.95,3.00,3.10,3.10,3.15,3.10],
           [3.09,2.99,2.90,2.12,1.07,2.30,2.89,2.94,3.02,3.02,3.06,3.02],
           [3.02,2.93,2.84,2.08,1.06,2.25,2.82,2.87,2.94,2.94,2.97,2.93],
           [2.96,2.87,2.79,2.05,1.06,2.20,2.76,2.81,2.86,2.86,2.88,2.85],
           [2.89,2.81,2.73,2.01,1.05,2.15,2.69,2.74,2.78,2.78,2.79,2.76],
           [2.83,2.75,2.68,1.98,1.04,2.10,2.63,2.68,2.70,2.70,2.70,2.68],
           [2.76,2.69,2.62,1.94,1.03,2.05,2.56,2.61,2.62,2.62,2.61,2.59],
           [2.70,2.63,2.57,1.91,1.02,2.00,2.50,2.55,2.54,2.54,2.52,2.51],
           [2.63,2.57,2.51,1.87,1.02,1.95,2.43,2.48,2.46,2.46,2.43,2.42],
           [2.57,2.51,2.46,1.84,1.01,1.90,2.37,2.42,2.38,2.38,2.34,2.34],
           [2.50,2.45,2.40,1.80,1.00,1.85,2.30,2.35,2.30,2.30,2.25,2.25]]
# low band only inside the window for a*1.05
band_low_105 = [-3.22,-3.32,-3.39,-3.17,-2.78,-2.70,-2.66,-2.68,-2.80,-3.08,-3.21,-3.14]

pf_curves = [pf_095, pf_096, pf_097, pf_098, pf_099, pf_100, pf_101, pf_102, pf_103, pf_104, pf_105]
zt_curves = [zt_095, zt_096, zt_097, zt_098, zt_099, zt_100, zt_101, zt_102, zt_103, zt_104, zt_105]
bands = [band_d3, band_d2, band_d1, band_v3, band_v2, band_v1, band_c1, band_c2, band_u1, band_u2]

colors = plt.cm.jet(np.linspace(0, 1, len(scales)))

fig = plt.figure(figsize=(9.73, 3.79), dpi=100)
ax1 = fig.add_axes([0.1069, 0.1504, 0.2452, 0.657])
ax2 = fig.add_axes([0.4317, 0.1504, 0.2436, 0.657])
ax3 = fig.add_axes([0.7564, 0.1504, 0.2436, 0.657])

for i, c in enumerate(colors):
    e, v = zip(*pf_curves[i])
    ax1.plot(e, v, color=c, lw=1.0)
    e, v = zip(*zt_curves[i])
    ax2.plot(e, v, color=c, lw=1.0)

ax1.set_title('Power factor', fontsize=13)
ax1.set_xlabel(r'$E - E_\mathrm{F}$ [eV]', fontsize=12)
ax1.set_ylabel('PF [W/Km]', fontsize=12)
ax1.set_xticks([-2, 0, 2])
ax1.set_yticks([0.0, 0.0025, 0.005, 0.0075, 0.01, 0.0125])

ax2.set_title('Figure of merit', fontsize=13)
ax2.set_xlabel(r'$E - E_\mathrm{F}$ [eV]', fontsize=12)
ax2.set_ylabel(r'$ZT$', fontsize=12)
ax2.set_xticks([-2, 0, 2])

for i, c in enumerate(colors):
    for n, b in enumerate(bands):
        lab = None
        if n == 0 and i in (0, 5, 10):
            lab = 'a*%.2f' % scales[i]
        ax3.plot(k_nodes, b[i], color=c, lw=0.9, label=lab)
ax3.plot(k_nodes, band_low_105, color=colors[-1], lw=0.9)

for k in k_ticks:
    ax3.axvline(k, color='gray', lw=1, alpha=0.5)

ax3.set_xticks(k_ticks)
ax3.set_xticklabels(k_labels, fontsize=11)
ax3.set_yticks([-2, 0, 2])
ax3.set_ylim(-3.72, 3.62)
ax3.set_ylabel(r'$E - E_\mathrm{F}$ [eV]', fontsize=12)
ax3.set_title('Band structure', fontsize=13)
ax3.legend(loc='upper left', fontsize=11)

fig.suptitle('LaRhTe', y=0.975, fontsize=12)

plt.savefig('out.png', dpi=100)
